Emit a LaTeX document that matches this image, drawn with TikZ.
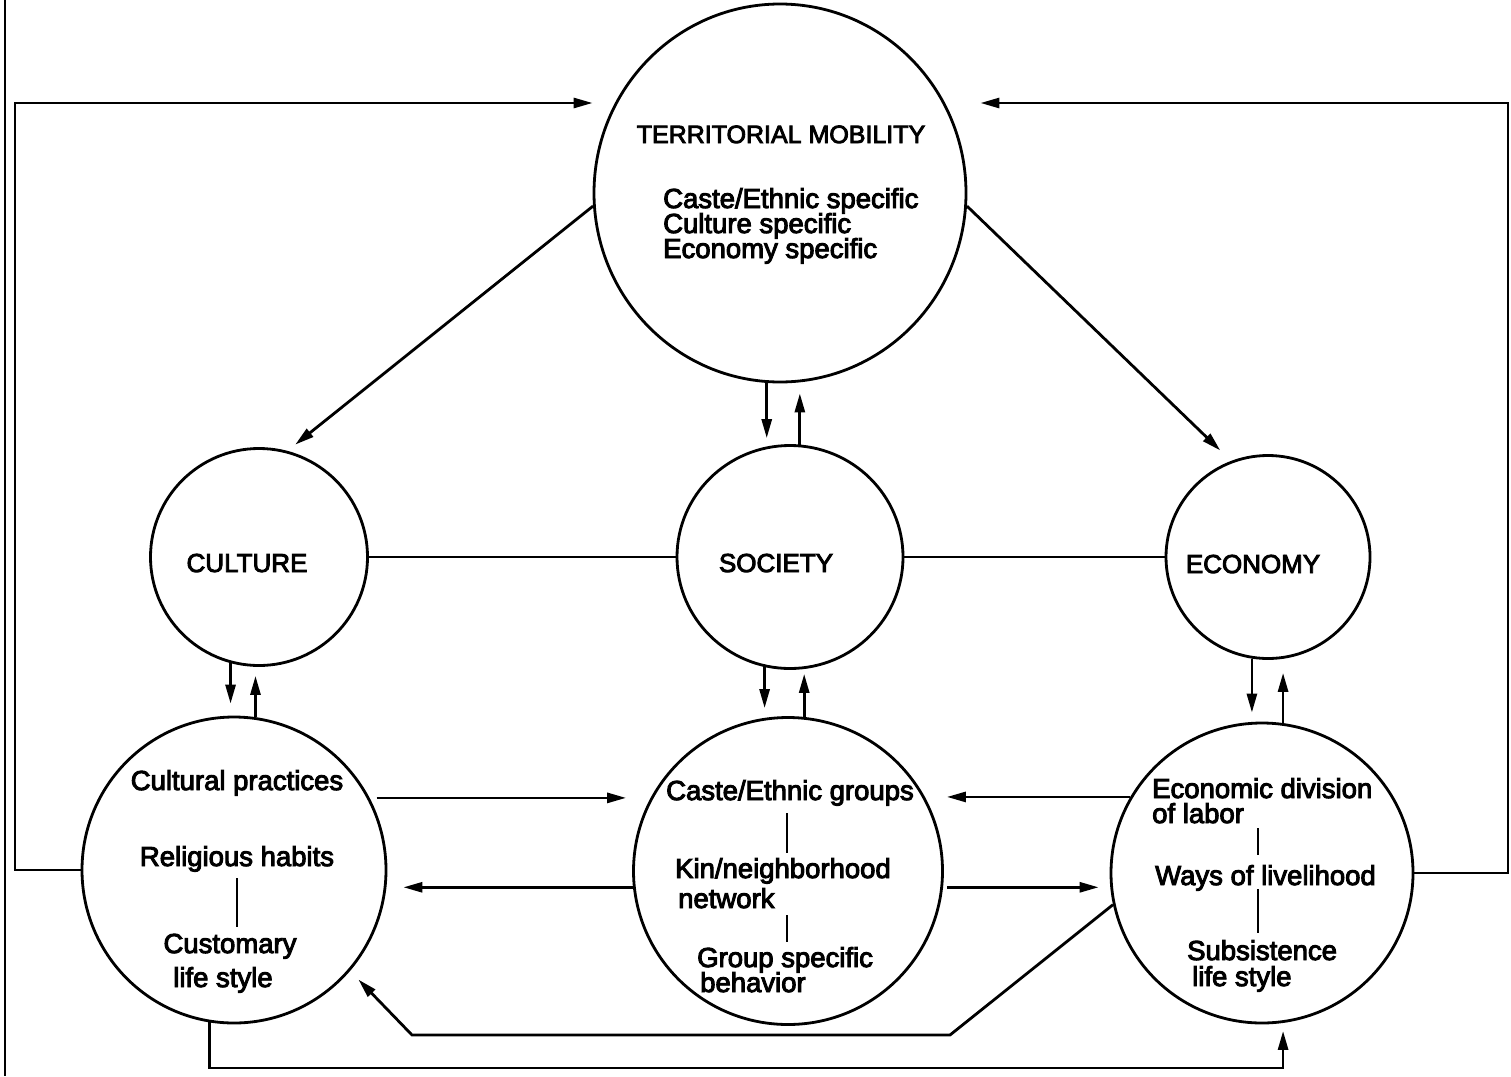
\documentclass[tikz,border=0pt]{standalone}
\usepackage{fontspec}
\newfontfamily\lbl{Liberation Sans}[FakeBold=3.5]
\usetikzlibrary{arrows.meta,shapes.geometric}
\newcommand\bodyfnt{\lbl\fontsize{27.5}{30}\selectfont}
\newcommand\capfnt{\lbl\fontsize{26}{28}\selectfont}
\newcommand\titlefnt{\lbl\fontsize{25}{28}\selectfont}
\begin{document}
\begin{tikzpicture}[x=1pt,y=-1pt,
  ln/.style={line width=2.8pt},
  arr/.style={ln,-{Triangle[length=19pt,width=10pt]}},
  bub/.style={draw,ellipse,line width=2.8pt,inner sep=0pt},
  body/.style={inner sep=0pt,font=\bodyfnt},
  capl/.style={inner sep=0pt,font=\capfnt},
  title/.style={inner sep=0pt,font=\titlefnt}]
\useasboundingbox (0,0) rectangle (1511,1076);
\fill[white] (0,0) rectangle (1511,1076);

% circles
\node[bub,minimum width=372pt,minimum height=378pt] (tm) at (780,193) {};
\node[bub,minimum width=217pt,minimum height=217pt] (cul) at (259,557) {};
\node[bub,minimum width=226pt,minimum height=223pt] (soc) at (790,557) {};
\node[bub,minimum width=204pt,minimum height=203pt] (eco) at (1268,557) {};
\node[bub,minimum width=304pt,minimum height=306pt] (cp) at (234,870) {};
\node[bub,minimum width=309pt,minimum height=307pt] (cas) at (788,871) {};
\node[bub,minimum width=302pt,minimum height=300pt] (ed) at (1262,873) {};

% texts
\node[title,anchor=base] (tmT) at (781,143) {TERRITORIAL MOBILITY};
\node[body,anchor=base west] (tm1) at (663,208) {Caste/Ethnic specific};
\node[body,anchor=base west] (tm2) at (663,233) {Culture specific};
\node[body,anchor=base west] (tm3) at (663,258) {Economy specific};
\node[capl,anchor=base] (culT) at (247,572) {CULTURE};
\node[capl,anchor=base] (socT) at (776,572) {SOCIETY};
\node[capl,anchor=base] (ecoT) at (1253,573) {ECONOMY};

\node[body,anchor=base] (cp1) at (237,790) {Cultural practices};
\node[body,anchor=base] (cp2) at (237,866) {Religious habits};
\node[body,anchor=base] (cp3) at (230,953) {Customary};
\node[body,anchor=base] (cp4) at (223,987) {life style};

\node[body,anchor=base] (cs1) at (790,800) {Caste/Ethnic groups};
\node[body,anchor=base west] (cs2) at (675,878) {Kin/neighborhood};
\node[body,anchor=base west] (cs3) at (678,908) {network};
\node[body,anchor=base west] (cs4) at (697,967) {Group specific};
\node[body,anchor=base west] (cs5) at (700,992) {behavior};

\node[body,anchor=base west] (ed1) at (1152,798) {Economic division};
\node[body,anchor=base west] (ed2) at (1152,823) {of labor};
\node[body,anchor=base west] (ed3) at (1155,885) {Ways of livelihood};
\node[body,anchor=base west] (ed4) at (1187,960) {Subsistence};
\node[body,anchor=base west] (ed5) at (1192,986) {life style};

% ticks inside bottom circles
\draw[ln] (237,878) -- (237,927);
\draw[ln] (787,813) -- (787,853);
\draw[ln] (787,915) -- (787,942);
\draw[ln] (1258,828) -- (1258,855);
\draw[ln] (1258,889) -- (1258,933);

% helper coordinates
\coordinate (lc) at (15,103);
\coordinate (rc) at (1508,103);
\coordinate (bl) at (0,1068);
\coordinate (d1) at (950,1035);
\coordinate (d2) at (412,1035);
\coordinate (bt) at (5,0);
\coordinate (bb) at (5,1076);

% page edge line
\draw[ln] (bt) -- (bb);

% territorial mobility links
\draw[arr,shorten >=10pt] (tm.184) -- (cul.75);
\draw[arr,shorten >=15pt] (tm.356) -- (eco.111);
\draw[arr,shorten >=6pt] (tm.266) -- (tm.266 |- soc.north);
\draw[arr,shorten >=10pt] (soc.85) -- (soc.85 |- tm.south);

% middle row
\draw[ln] (cul.east) -- (soc.west);
\draw[ln] (soc.east) -- (eco.west);

% middle to bottom
\draw[arr,shorten >=12pt] (cul.255) -- (cul.255 |- cp.north);
\draw[arr,shorten >=9pt] (cp.82) -- (cp.82 |- cul.south);
\draw[arr,shorten >=8pt] (soc.257) -- (soc.257 |- cas.north);
\draw[arr,shorten >=4pt] (cas.84) -- (cas.84 |- soc.south);
\draw[arr,shorten >=9pt] (eco.261) -- (eco.261 |- ed.north);
\draw[arr,shorten >=13pt] (ed.82) -- (ed.82 |- eco.south);

% bottom row horizontals
\draw[arr,shorten <=7pt,shorten >=6pt] (cp.28) -- (cp.28 -| cas.west);
\draw[arr,shorten >=16pt] (cas.186) -- (cas.186 -| cp.east);
\draw[arr,shorten >=3pt] (ed.150) -- (ed.150 -| cas.east);
\draw[arr,shorten <=4pt,shorten >=11pt] (cas.354) -- (cas.354 -| ed.west);

% bottom loops
\draw[arr,shorten >=12pt] (ed.192) -- (d1) -- (d2) -- (cp.319);
\draw[arr,shorten >=8pt] (cp.261) -- (cp.261 |- bl) -| (ed.278);

% feedback loops to territorial mobility
\draw[arr] (cp.west) -| (lc) -- (lc -| tm.west);
\draw[arr,shorten >=13pt] (ed.east) -| (rc) -- (rc -| tm.east);
\end{tikzpicture}
\end{document}
